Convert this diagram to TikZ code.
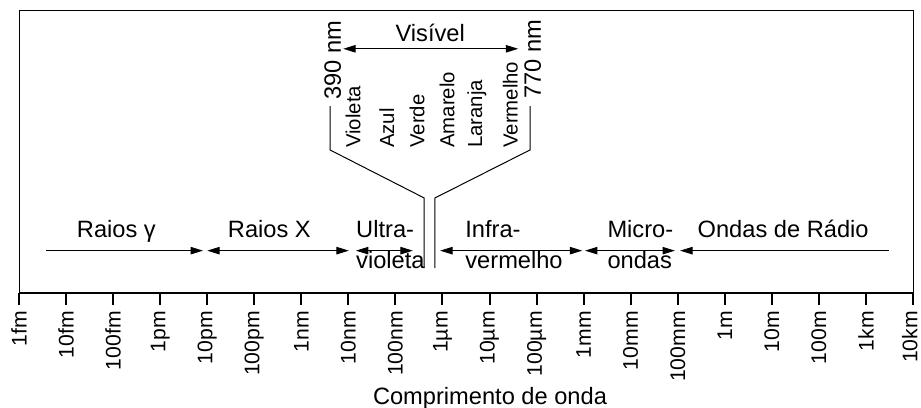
\documentclass[tikz,border=0pt]{standalone}
\usepackage{fontspec}
\setmainfont{Liberation Sans}
\usetikzlibrary{arrows.meta}
\tikzset{%
    bandtip/.tip={Triangle[length=7.5pt, width=4.5pt]},
    bandtext/.style={font=\fontsize{14.3}{18.7}\selectfont, inner sep=0pt},
    smalltext/.style={font=\fontsize{12.3}{14}\selectfont, inner sep=0pt},
    ticktext/.style={font=\fontsize{12.8}{14}\selectfont, inner sep=0pt},
    bandarrow/.style={line width=0.6pt},
    thinline/.style={line width=0.6pt},
    axisline/.style={line width=1.2pt}
}

\begin{document}
\begin{tikzpicture}

    \useasboundingbox (-0.404, -2.423) rectangle (19.17, 6.227);

    % Frame and wavelength axis
    \draw[thinline] (0, 0) -- (0, 6) -- (19, 6) -- (19, 0);
    \draw[axisline] (0, 0) -- (19, 0);

    \foreach \lbl [count=\i from 0] in {1fm, 10fm, 100fm, 1pm, 10pm, 100pm,
            1nm, 10nm, 100nm, 1µm, 10µm, 100µm, 1mm, 10mm, 100mm,
            1m, 10m, 100m, 1km, 10km}{%
        \pgfmathsetmacro\lx{min(\i, 18.93)}
        \draw[axisline] (\i, 0) -- (\i, -0.25);
        \node[ticktext, rotate=90, anchor=east] (tick\i) at (\lx, -0.38) {\lbl};
    }

    \node[bandtext, anchor=base] (axistitle) at (10.01, -2.36) {Comprimento de onda};


    % Bands of the spectrum
    \coordinate (gammaL) at (0.57, 0.9);
    \coordinate (gammaR) at (3.91, 0.9);
    \coordinate (xrayL) at (4.0, 0.9);
    \coordinate (xrayR) at (7.01, 0.9);
    \coordinate (uvL) at (7.16, 0.9);
    \coordinate (uvR) at (8.37, 0.9);
    \coordinate (irL) at (8.95, 0.9);
    \coordinate (irR) at (11.97, 0.9);
    \coordinate (microL) at (12.03, 0.9);
    \coordinate (microR) at (13.94, 0.9);
    \coordinate (radioL) at (14.05, 0.9);
    \coordinate (radioR) at (18.49, 0.9);

    \draw[bandarrow, -bandtip] (gammaL) -- (gammaR);
    \draw[bandarrow, bandtip-bandtip] (xrayL) -- (xrayR);
    \draw[bandarrow, bandtip-bandtip] (uvL) -- (uvR);
    \draw[bandarrow, bandtip-bandtip] (irL) -- (irR);
    \draw[bandarrow, bandtip-bandtip] (microL) -- (microR);
    \draw[bandarrow, bandtip-] (radioL) -- (radioR);

    \node[bandtext, anchor=base] (gamma) at (2.07, 1.17) {Raios γ};
    \node[bandtext, anchor=base] (xray) at (5.32, 1.17) {Raios X};
    \node[bandtext, anchor=west, align=left] (uv) at (7.16, 1.02) {Ultra-\\violeta};
    \node[bandtext, anchor=west, align=left] (ir) at (9.48, 1.02) {Infra-\\vermelho};
    \node[bandtext, anchor=west, align=left] (micro) at (12.5, 1.02) {Micro-\\ondas};
    \node[bandtext, anchor=base] (radio) at (16.24, 1.17) {Ondas de Rádio};


    % Visible window
    \draw[thinline] (8.61, 0.53) -- (8.61, 2.02) -- (6.61, 3.04) -- (6.61, 3.97);
    \draw[thinline] (8.84, 0.53) -- (8.84, 2.02) -- (10.86, 3.04) -- (10.86, 3.97);

    \node[bandtext, rotate=90, anchor=west] (nm390) at (6.67, 4.1) {390 nm};
    \node[bandtext, rotate=90, anchor=west] (nm770) at (10.92, 4.12) {770 nm};

    \coordinate (visL) at (6.89, 5.19);
    \coordinate (visR) at (10.61, 5.19);
    \draw[bandarrow, bandtip-bandtip] (visL) -- (visR);
    \node[bandtext, anchor=base] (visible) at (8.74, 5.34) {Visível};

    \foreach \colr/\xx in {Violeta/7.10, Azul/7.82, Verde/8.46,
            Amarelo/9.10, Laranja/9.73, Vermelho/10.44}{%
        \node[smalltext, rotate=90, anchor=west] (\colr) at (\xx, 3.08) {\colr};
    }

\end{tikzpicture}
\end{document}
